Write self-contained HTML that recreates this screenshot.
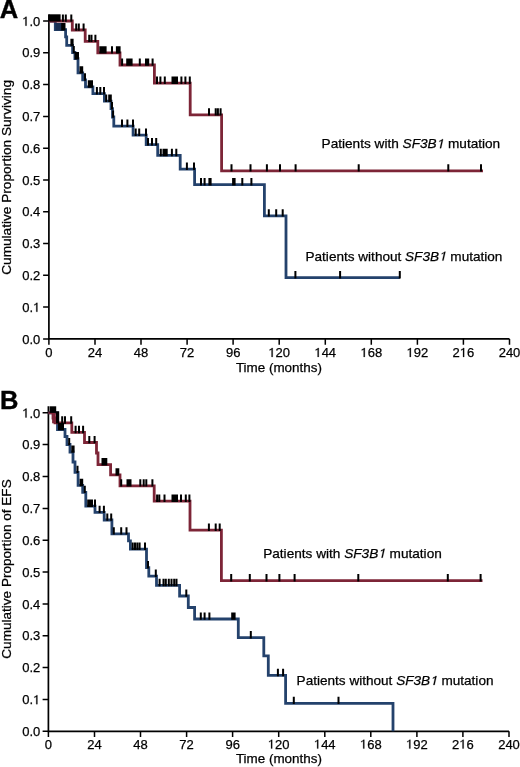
<!DOCTYPE html>
<html><head><meta charset="utf-8"><style>
html,body{margin:0;padding:0;background:#fff;}
body{width:520px;height:767px;overflow:hidden;}
svg{display:block;will-change:transform;}
.t{font-family:"Liberation Sans",sans-serif;font-size:13px;fill:#000;stroke:#000;stroke-width:0.25px;}
.g1{fill:#000;stroke:#000;stroke-width:38px;}
.p{font-family:"Liberation Sans",sans-serif;font-size:25.5px;font-weight:bold;fill:#000;stroke:#000;stroke-width:0.4px;}
</style></head><body>
<svg width="520" height="767" viewBox="0 0 520 767">
<path d="M48.9 14.5 V338.9 H509.5" fill="none" stroke="#000" stroke-width="1.7"/>
<path d="M43.1 338.9 H48.9 M43.1 307.1 H48.9 M43.1 275.3 H48.9 M43.1 243.5 H48.9 M43.1 211.7 H48.9 M43.1 179.9 H48.9 M43.1 148.2 H48.9 M43.1 116.4 H48.9 M43.1 84.6 H48.9 M43.1 52.8 H48.9 M43.1 21.0 H48.9 M48.9 338.9 V344.7 M95.0 338.9 V344.7 M141.0 338.9 V344.7 M187.1 338.9 V344.7 M233.1 338.9 V344.7 M279.2 338.9 V344.7 M325.3 338.9 V344.7 M371.3 338.9 V344.7 M417.4 338.9 V344.7 M463.4 338.9 V344.7 M509.5 338.9 V344.7 " fill="none" stroke="#000" stroke-width="1.5"/>
<text x="22.23" y="343.60" class="t">0.0</text>
<text x="22.23" y="311.81" class="t">0. </text>
<path class="g1" transform="translate(33.07 311.81) scale(0.006348 -0.006348)" d="M683 0L503 0L503 1180Q380 1080 200 1000L200 1170Q420 1250 566 1409L683 1409Z"/>
<text x="22.23" y="280.02" class="t">0.2</text>
<text x="22.23" y="248.23" class="t">0.3</text>
<text x="22.23" y="216.44" class="t">0.4</text>
<text x="22.23" y="184.65" class="t">0.5</text>
<text x="22.23" y="152.86" class="t">0.6</text>
<text x="22.23" y="121.07" class="t">0.7</text>
<text x="22.23" y="89.28" class="t">0.8</text>
<text x="22.23" y="57.49" class="t">0.9</text>
<text x="22.23" y="25.70" class="t"> .0</text>
<path class="g1" transform="translate(22.23 25.70) scale(0.006348 -0.006348)" d="M683 0L503 0L503 1180Q380 1080 200 1000L200 1170Q420 1250 566 1409L683 1409Z"/>
<text x="45.29" y="356.90" class="t">0</text>
<text x="87.73" y="356.90" class="t">24</text>
<text x="133.79" y="356.90" class="t">48</text>
<text x="179.85" y="356.90" class="t">72</text>
<text x="225.91" y="356.90" class="t">96</text>
<text x="268.36" y="356.90" class="t"> 20</text>
<path class="g1" transform="translate(268.36 356.90) scale(0.006348 -0.006348)" d="M683 0L503 0L503 1180Q380 1080 200 1000L200 1170Q420 1250 566 1409L683 1409Z"/>
<text x="314.42" y="356.90" class="t"> 44</text>
<path class="g1" transform="translate(314.42 356.90) scale(0.006348 -0.006348)" d="M683 0L503 0L503 1180Q380 1080 200 1000L200 1170Q420 1250 566 1409L683 1409Z"/>
<text x="360.48" y="356.90" class="t"> 68</text>
<path class="g1" transform="translate(360.48 356.90) scale(0.006348 -0.006348)" d="M683 0L503 0L503 1180Q380 1080 200 1000L200 1170Q420 1250 566 1409L683 1409Z"/>
<text x="406.54" y="356.90" class="t"> 92</text>
<path class="g1" transform="translate(406.54 356.90) scale(0.006348 -0.006348)" d="M683 0L503 0L503 1180Q380 1080 200 1000L200 1170Q420 1250 566 1409L683 1409Z"/>
<text x="452.60" y="356.90" class="t">2 6</text>
<path class="g1" transform="translate(459.83 356.90) scale(0.006348 -0.006348)" d="M683 0L503 0L503 1180Q380 1080 200 1000L200 1170Q420 1250 566 1409L683 1409Z"/>
<text x="498.66" y="356.90" class="t">240</text>
<text x="235.9" y="372.0" class="t" textLength="86.0" lengthAdjust="spacingAndGlyphs">Time (months)</text>
<path d="M48.4 406.3 V731.3 H509.0" fill="none" stroke="#000" stroke-width="1.7"/>
<path d="M42.6 731.3 H48.4 M42.6 699.4 H48.4 M42.6 667.6 H48.4 M42.6 635.8 H48.4 M42.6 603.9 H48.4 M42.6 572.0 H48.4 M42.6 540.2 H48.4 M42.6 508.4 H48.4 M42.6 476.5 H48.4 M42.6 444.6 H48.4 M42.6 412.8 H48.4 M48.4 731.3 V737.1 M94.5 731.3 V737.1 M140.5 731.3 V737.1 M186.6 731.3 V737.1 M232.6 731.3 V737.1 M278.7 731.3 V737.1 M324.8 731.3 V737.1 M370.8 731.3 V737.1 M416.9 731.3 V737.1 M462.9 731.3 V737.1 M509.0 731.3 V737.1 " fill="none" stroke="#000" stroke-width="1.5"/>
<text x="22.23" y="736.00" class="t">0.0</text>
<text x="22.23" y="704.15" class="t">0. </text>
<path class="g1" transform="translate(33.07 704.15) scale(0.006348 -0.006348)" d="M683 0L503 0L503 1180Q380 1080 200 1000L200 1170Q420 1250 566 1409L683 1409Z"/>
<text x="22.23" y="672.30" class="t">0.2</text>
<text x="22.23" y="640.45" class="t">0.3</text>
<text x="22.23" y="608.60" class="t">0.4</text>
<text x="22.23" y="576.75" class="t">0.5</text>
<text x="22.23" y="544.90" class="t">0.6</text>
<text x="22.23" y="513.05" class="t">0.7</text>
<text x="22.23" y="481.20" class="t">0.8</text>
<text x="22.23" y="449.35" class="t">0.9</text>
<text x="22.23" y="417.50" class="t"> .0</text>
<path class="g1" transform="translate(22.23 417.50) scale(0.006348 -0.006348)" d="M683 0L503 0L503 1180Q380 1080 200 1000L200 1170Q420 1250 566 1409L683 1409Z"/>
<text x="44.79" y="748.60" class="t">0</text>
<text x="87.23" y="748.60" class="t">24</text>
<text x="133.29" y="748.60" class="t">48</text>
<text x="179.35" y="748.60" class="t">72</text>
<text x="225.41" y="748.60" class="t">96</text>
<text x="267.86" y="748.60" class="t"> 20</text>
<path class="g1" transform="translate(267.86 748.60) scale(0.006348 -0.006348)" d="M683 0L503 0L503 1180Q380 1080 200 1000L200 1170Q420 1250 566 1409L683 1409Z"/>
<text x="313.92" y="748.60" class="t"> 44</text>
<path class="g1" transform="translate(313.92 748.60) scale(0.006348 -0.006348)" d="M683 0L503 0L503 1180Q380 1080 200 1000L200 1170Q420 1250 566 1409L683 1409Z"/>
<text x="359.98" y="748.60" class="t"> 68</text>
<path class="g1" transform="translate(359.98 748.60) scale(0.006348 -0.006348)" d="M683 0L503 0L503 1180Q380 1080 200 1000L200 1170Q420 1250 566 1409L683 1409Z"/>
<text x="406.04" y="748.60" class="t"> 92</text>
<path class="g1" transform="translate(406.04 748.60) scale(0.006348 -0.006348)" d="M683 0L503 0L503 1180Q380 1080 200 1000L200 1170Q420 1250 566 1409L683 1409Z"/>
<text x="452.10" y="748.60" class="t">2 6</text>
<path class="g1" transform="translate(459.33 748.60) scale(0.006348 -0.006348)" d="M683 0L503 0L503 1180Q380 1080 200 1000L200 1170Q420 1250 566 1409L683 1409Z"/>
<text x="498.16" y="748.60" class="t">240</text>
<text x="235.9" y="763.0" class="t" textLength="86.0" lengthAdjust="spacingAndGlyphs">Time (months)</text>
<path d="M48.9 21.0 L55.3 21.0 L55.3 29.6 L65.6 29.6 L65.6 36.8 L66.7 36.8 L66.7 45.4 L72.6 45.4 L72.6 52.5 L74.9 52.5 L74.9 58.7 L78.0 58.7 L78.0 72.8 L82.7 72.8 L82.7 79.9 L85.5 79.9 L85.5 86.9 L92.9 86.9 L92.9 93.7 L104.4 93.7 L104.4 101.2 L111.0 101.2 L111.0 108.6 L112.5 108.6 L112.5 117.0 L113.8 117.0 L113.8 126.2 L133.1 126.2 L133.1 135.1 L146.2 135.1 L146.2 144.6 L157.7 144.6 L157.7 155.4 L180.2 155.4 L180.2 169.2 L194.6 169.2 L194.6 184.6 L264.4 184.6 L264.4 215.8 L286.0 215.8 L286.0 277.7 L399.8 277.7" fill="none" stroke="#24426c" stroke-width="2.80" stroke-linejoin="miter" stroke-linecap="butt"/>
<path d="M48.9 21.0 L72.3 21.0 L72.3 30.0 L85.2 30.0 L85.2 41.3 L97.8 41.3 L97.8 52.8 L120.0 52.8 L120.0 65.0 L154.4 65.0 L154.4 83.2 L190.2 83.2 L190.2 114.8 L221.6 114.8 L221.6 170.8 L483.0 170.8" fill="none" stroke="#7d2537" stroke-width="2.80" stroke-linejoin="miter" stroke-linecap="butt"/>
<path d="M48.4 412.8 L57.5 412.8 L57.5 429.5 L65.0 429.5 L65.0 436.5 L67.0 436.5 L67.0 444.5 L70.0 444.5 L70.0 452.0 L73.0 452.0 L73.0 462.0 L75.0 462.0 L75.0 472.3 L78.1 472.3 L78.1 485.4 L82.7 485.4 L82.7 492.3 L85.8 492.3 L85.8 506.2 L95.0 506.2 L95.0 512.3 L104.2 512.3 L104.2 520.0 L111.9 520.0 L111.9 533.8 L128.5 533.8 L128.5 540.8 L130.4 540.8 L130.4 549.2 L146.5 549.2 L146.5 567.7 L148.8 567.7 L148.8 576.2 L156.5 576.2 L156.5 585.4 L179.6 585.4 L179.6 596.0 L188.3 596.0 L188.3 607.5 L194.6 607.5 L194.6 619.0 L238.3 619.0 L238.3 637.6 L263.8 637.6 L263.8 655.8 L268.3 655.8 L268.3 675.4 L285.6 675.4 L285.6 703.3 L393.0 703.3 L393.0 731.3" fill="none" stroke="#24426c" stroke-width="2.80" stroke-linejoin="miter" stroke-linecap="butt"/>
<path d="M48.4 412.8 L53.0 412.8 L53.0 418.0 L55.0 418.0 L55.0 422.9 L71.8 422.9 L71.8 432.4 L84.5 432.4 L84.5 442.5 L96.5 442.5 L96.5 453.0 L98.0 453.0 L98.0 464.6 L110.6 464.6 L110.6 474.8 L120.0 474.8 L120.0 485.8 L154.2 485.8 L154.2 501.2 L190.0 501.2 L190.0 530.2 L221.4 530.2 L221.4 580.6 L482.5 580.6" fill="none" stroke="#7d2537" stroke-width="2.80" stroke-linejoin="miter" stroke-linecap="butt"/>
<path d="M62.9 21.8 V14.4 M65.8 21.8 V14.4 M71.3 21.8 V14.4 M76.2 30.8 V23.4 M78.8 30.8 V23.4 M83.6 30.8 V23.4 M89.2 42.1 V34.7 M91.5 42.1 V34.7 M95.4 42.1 V34.7 M100.3 53.6 V46.2 M102.0 53.6 V46.2 M103.7 53.6 V46.2 M105.6 53.6 V46.2 M112.0 53.6 V46.2 M116.9 53.6 V46.2 M118.4 53.6 V46.2 M119.6 53.6 V46.2 M122.1 65.8 V58.4 M127.2 65.8 V58.4 M128.6 65.8 V58.4 M130.0 65.8 V58.4 M131.6 65.8 V58.4 M139.8 65.8 V58.4 M146.0 65.8 V58.4 M147.1 65.8 V58.4 M148.2 65.8 V58.4 M152.6 65.8 V58.4 M157.0 84.0 V76.6 M160.4 84.0 V76.6 M164.8 84.0 V76.6 M172.5 84.0 V76.6 M174.0 84.0 V76.6 M175.5 84.0 V76.6 M177.0 84.0 V76.6 M181.4 84.0 V76.6 M185.4 84.0 V76.6 M189.8 84.0 V76.6 M209.0 115.6 V108.2 M215.7 115.6 V108.2 M217.9 115.6 V108.2 M220.6 115.6 V108.2 M231.5 171.6 V164.2 M250.5 171.6 V164.2 M266.9 171.6 V164.2 M280.0 171.6 V164.2 M295.6 171.6 V164.2 M358.7 171.6 V164.2 M448.3 171.6 V164.2 M481.0 171.6 V164.2 M61.5 30.4 V23.0 M63.0 30.4 V23.0 M64.5 30.4 V23.0 M71.4 46.2 V38.8 M72.6 46.2 V38.8 M73.8 53.3 V45.9 M75.6 59.5 V52.1 M77.0 59.5 V52.1 M78.0 59.5 V52.1 M80.5 73.6 V66.2 M82.2 73.6 V66.2 M85.0 80.7 V73.3 M88.8 87.7 V80.3 M90.4 87.7 V80.3 M92.0 87.7 V80.3 M96.9 94.5 V87.1 M100.3 94.5 V87.1 M104.0 94.5 V87.1 M106.2 102.0 V94.6 M109.2 102.0 V94.6 M110.8 102.0 V94.6 M112.0 109.4 V102.0 M113.1 117.8 V110.4 M122.0 127.0 V119.6 M127.4 127.0 V119.6 M133.0 127.0 V119.6 M135.7 135.9 V128.5 M139.2 135.9 V128.5 M146.0 135.9 V128.5 M148.0 145.4 V138.0 M152.0 145.4 V138.0 M156.2 145.4 V138.0 M160.8 156.2 V148.8 M163.5 156.2 V148.8 M165.4 156.2 V148.8 M166.7 156.2 V148.8 M171.9 156.2 V148.8 M176.3 156.2 V148.8 M186.9 170.0 V162.6 M194.0 170.0 V162.6 M201.0 185.4 V178.0 M204.6 185.4 V178.0 M209.4 185.4 V178.0 M210.6 185.4 V178.0 M233.1 185.4 V178.0 M234.6 185.4 V178.0 M242.3 185.4 V178.0 M251.4 185.4 V178.0 M268.8 216.6 V209.2 M276.2 216.6 V209.2 M282.7 216.6 V209.2 M295.4 278.5 V271.1 M340.1 278.5 V271.1 M399.8 278.5 V271.1 M62.2 423.7 V416.3 M65.0 423.7 V416.3 M71.2 423.7 V416.3 M75.6 433.2 V425.8 M79.0 433.2 V425.8 M83.1 433.2 V425.8 M89.3 443.3 V435.9 M94.6 443.3 V435.9 M102.5 465.4 V458.0 M103.8 465.4 V458.0 M105.0 465.4 V458.0 M106.3 465.4 V458.0 M116.5 475.6 V468.2 M118.3 475.6 V468.2 M121.2 486.6 V479.2 M127.5 486.6 V479.2 M129.0 486.6 V479.2 M130.5 486.6 V479.2 M140.3 486.6 V479.2 M143.7 486.6 V479.2 M146.3 486.6 V479.2 M152.4 486.6 V479.2 M157.1 502.0 V494.6 M159.3 502.0 V494.6 M164.5 502.0 V494.6 M172.5 502.0 V494.6 M174.0 502.0 V494.6 M175.5 502.0 V494.6 M177.0 502.0 V494.6 M181.0 502.0 V494.6 M185.8 502.0 V494.6 M189.4 502.0 V494.6 M208.9 531.0 V523.6 M215.7 531.0 V523.6 M219.7 531.0 V523.6 M231.2 581.4 V574.0 M249.8 581.4 V574.0 M266.5 581.4 V574.0 M279.4 581.4 V574.0 M294.6 581.4 V574.0 M358.3 581.4 V574.0 M447.8 581.4 V574.0 M480.6 581.4 V574.0 M59.0 430.3 V422.9 M61.0 430.3 V422.9 M63.0 430.3 V422.9 M69.2 445.3 V437.9 M72.3 452.8 V445.4 M73.6 452.8 V445.4 M77.5 473.1 V465.7 M80.6 486.2 V478.8 M82.2 486.2 V478.8 M84.8 493.1 V485.7 M88.2 507.0 V499.6 M89.5 507.0 V499.6 M90.8 507.0 V499.6 M92.0 507.0 V499.6 M95.0 507.0 V499.6 M99.6 513.1 V505.7 M103.9 513.1 V505.7 M107.3 520.8 V513.4 M111.2 520.8 V513.4 M113.8 534.6 V527.2 M121.2 534.6 V527.2 M126.5 534.6 V527.2 M132.7 550.0 V542.6 M135.0 550.0 V542.6 M137.3 550.0 V542.6 M139.6 550.0 V542.6 M145.0 550.0 V542.6 M148.0 568.5 V561.1 M155.8 577.0 V569.6 M159.6 586.2 V578.8 M163.5 586.2 V578.8 M165.8 586.2 V578.8 M168.8 586.2 V578.8 M171.5 586.2 V578.8 M174.2 586.2 V578.8 M176.5 586.2 V578.8 M186.3 596.8 V589.4 M200.8 619.8 V612.4 M204.6 619.8 V612.4 M209.4 619.8 V612.4 M232.2 619.8 V612.4 M233.4 619.8 V612.4 M234.6 619.8 V612.4 M250.8 638.4 V631.0 M277.9 676.2 V668.8 M283.1 676.2 V668.8 M293.8 704.1 V696.7 M338.5 704.1 V696.7 " fill="none" stroke="#000" stroke-width="2.00"/>
<path d="M56.4 30.4 V23.0 M57.7 30.4 V23.0 M59.0 30.4 V23.0 M60.2 30.4 V23.0 " fill="none" stroke="#1a2f52" stroke-width="2.00"/>
<rect x="48.4" y="14.3" width="12.2" height="7.2" fill="#000"/>
<rect x="52.1" y="412.8" width="3.7" height="10.5" fill="#7d2537"/>
<rect x="49.6" y="406.3" width="6.6" height="6.6" fill="#000"/>
<rect x="56.0" y="411.3" width="3.2" height="12.2" fill="#000"/>
<text x="321.6" y="148.2" class="t lab" textLength="178.6" lengthAdjust="spacingAndGlyphs">Patients with <tspan font-style="italic">SF3B </tspan> mutation</text>
<text x="305.5" y="260.6" class="t lab" textLength="196.9" lengthAdjust="spacingAndGlyphs">Patients without <tspan font-style="italic">SF3B </tspan> mutation</text>
<text x="263.2" y="557.7" class="t lab" textLength="178.6" lengthAdjust="spacingAndGlyphs">Patients with <tspan font-style="italic">SF3B </tspan> mutation</text>
<text x="296.6" y="685.0" class="t lab" textLength="196.9" lengthAdjust="spacingAndGlyphs">Patients without <tspan font-style="italic">SF3B </tspan> mutation</text>
<path class="g1" transform="translate(436.60 148.20) scale(0.006665 -0.006348)" d="M673 0L493 0L744 1180Q600 1080 403 1000L439 1170Q676 1250 856 1409L973 1409Z"/>
<path class="g1" transform="translate(439.00 260.60) scale(0.006644 -0.006348)" d="M673 0L493 0L744 1180Q600 1080 403 1000L439 1170Q676 1250 856 1409L973 1409Z"/>
<path class="g1" transform="translate(378.20 557.70) scale(0.006665 -0.006348)" d="M673 0L493 0L744 1180Q600 1080 403 1000L439 1170Q676 1250 856 1409L973 1409Z"/>
<path class="g1" transform="translate(430.10 685.00) scale(0.006644 -0.006348)" d="M673 0L493 0L744 1180Q600 1080 403 1000L439 1170Q676 1250 856 1409L973 1409Z"/>
<text transform="translate(11.4 274.8) rotate(-90)" class="t" textLength="194.8" lengthAdjust="spacingAndGlyphs">Cumulative Proportion Surviving</text>
<text transform="translate(11.4 658.7) rotate(-90)" class="t" textLength="179.4" lengthAdjust="spacingAndGlyphs">Cumulative Proportion of EFS</text>
<text x="-0.2" y="18.3" class="p">A</text>
<text x="0.0" y="408.6" class="p">B</text>
</svg>
</body></html>
